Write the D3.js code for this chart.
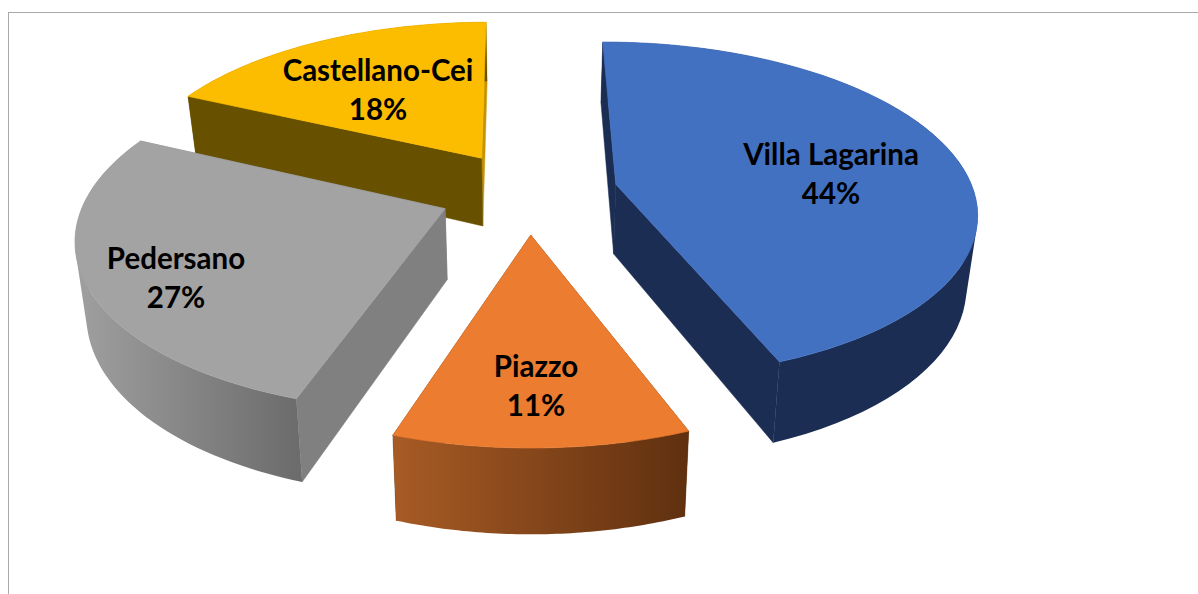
<!DOCTYPE html>
<html>
<head>
<meta charset="utf-8">
<script src="https://cdnjs.cloudflare.com/ajax/libs/d3/7.8.5/d3.min.js"></script>
<style>
    html, body { margin: 0; padding: 0; background: #fff; overflow: hidden; }
    text { font-family: Lato, "Noto Sans", sans-serif; font-weight: 700; fill: #000; }
</style>
</head>
<body>
<div id="chart"></div>
<script>
const categories = ['Villa Lagarina', 'Piazzo', 'Pedersano', 'Castellano-Cei'];
// the labels show them rounded
const percents = [44.2, 11, 26.8, 18];

// styling, same order as categories
const topColors = ['#4371c2', '#eb7c30', '#a3a3a3', '#fcbd00'];
const sideColors = ['#1b2d52', '#5f300f', '#808080', '#675000'];
const backColors = ['#1b2d52', '#5f300f', '#808080', '#c49300'];
const rimFrom = ['#1b2d52', '#a85b25', '#a0a0a0', '#675000'];
const rimTo = ['#1b2d52', '#5f300f', '#6c6c6c', '#675000'];
const labelSpots = [[831, 165], [536, 377], [176, 269], [378, 81]];

const width = 1198, height = 594;
const startDeg = -0.3;
const explode = 0.25;
const perspective = 0.1515;
const depthX = 0.975;
const depthY = 70;

const svg = d3.select('#chart').append('svg')
    .attr('width', width)
    .attr('height', height);

// chart frame, runs off the right and bottom of the shot
svg.append('rect')
    .attr('x', 8.5).attr('y', 12.5)
    .attr('width', 1300).attr('height', 700)
    .attr('fill', '#fff')
    .attr('stroke', '#aaa')
    .attr('stroke-width', 1);

const xScale = d3.scaleLinear().domain([-1, 1]).range([528.5 - 358, 528.5 + 358]);
const yScale = d3.scaleLinear().domain([-1, 1]).range([192 + 166, 192 - 166]);

function project(u, v) {
    const s = 1 / (1 + perspective * v);
    return { x: xScale(u * s), y: yScale(v * s), s };
}

function lower(p) {
    const cx = xScale(0);
    return { x: cx + (p.x - cx) * depthX, y: p.y + depthY * p.s };
}

const pie = d3.pie().sort(null)
    .startAngle(startDeg * Math.PI / 180)
    .endAngle((startDeg + 360) * Math.PI / 180);

const slices = pie(percents).map((d, i) => {
    const mid = (d.startAngle + d.endAngle) / 2;
    const ou = explode * Math.sin(mid), ov = explode * Math.cos(mid);
    const steps = d3.range(0, 61).map(k => d.startAngle + (d.endAngle - d.startAngle) * k / 60);
    const arc = steps.map(a => project(ou + Math.sin(a), ov + Math.cos(a)));
    return { i, apex: project(ou, ov), arc };
});

const line = d3.line().x(p => p.x).y(p => p.y);
const defs = svg.append('defs');

// all quads wound the same way, otherwise overlaps cancel out in a shared path
function quad(a, b) {
    const pts = [a, b, lower(b), lower(a)];
    const area = d3.polygonArea(pts.map(p => [p.x, p.y]));
    return line(area < 0 ? pts.reverse() : pts) + 'Z';
}

// back to front
[3, 2, 0, 1].forEach(idx => {
    const sl = slices[idx];
    const g = svg.append('g').attr('class', 'slice');
    const first = sl.arc[0], last = sl.arc[sl.arc.length - 1];

    const radial = [[sl.apex, first], [sl.apex, last]]
        .sort((a, b) => (a[0].y + a[1].y) - (b[0].y + b[1].y));
    [backColors[idx], sideColors[idx]].forEach((fill, k) => {
        g.append('path')
            .attr('d', quad(radial[k][0], radial[k][1]))
            .attr('fill', fill)
            .attr('stroke', fill)
            .attr('stroke-width', 0.5);
    });

    const xs = d3.extent(sl.arc, p => p.x);
    const grad = defs.append('linearGradient')
        .attr('id', 'rim' + idx)
        .attr('gradientUnits', 'userSpaceOnUse')
        .attr('x1', xs[0]).attr('x2', xs[1])
        .attr('y1', 0).attr('y2', 0);
    grad.append('stop').attr('offset', 0).attr('stop-color', rimFrom[idx]);
    grad.append('stop').attr('offset', 1).attr('stop-color', rimTo[idx]);

    // rim quads go in one path so they leave no seams between them
    g.append('path')
        .attr('d', d3.pairs(sl.arc).map(([a, b]) => quad(a, b)).join(''))
        .attr('fill', `url(#rim${idx})`);

    g.append('path')
        .attr('d', line([sl.apex].concat(sl.arc)) + 'Z')
        .attr('fill', topColors[idx])
        .attr('stroke', topColors[idx])
        .attr('stroke-width', 0.7);
});

categories.forEach((name, i) => {
    const t = svg.append('text')
        .attr('text-anchor', 'middle')
        .style('font-size', '29.5px');
    t.append('tspan')
        .attr('x', labelSpots[i][0]).attr('y', labelSpots[i][1])
        .text(name);
    t.append('tspan')
        .attr('x', labelSpots[i][0]).attr('y', labelSpots[i][1] + 39)
        .text(Math.round(percents[i]) + '%');
});
</script>
</body>
</html>
